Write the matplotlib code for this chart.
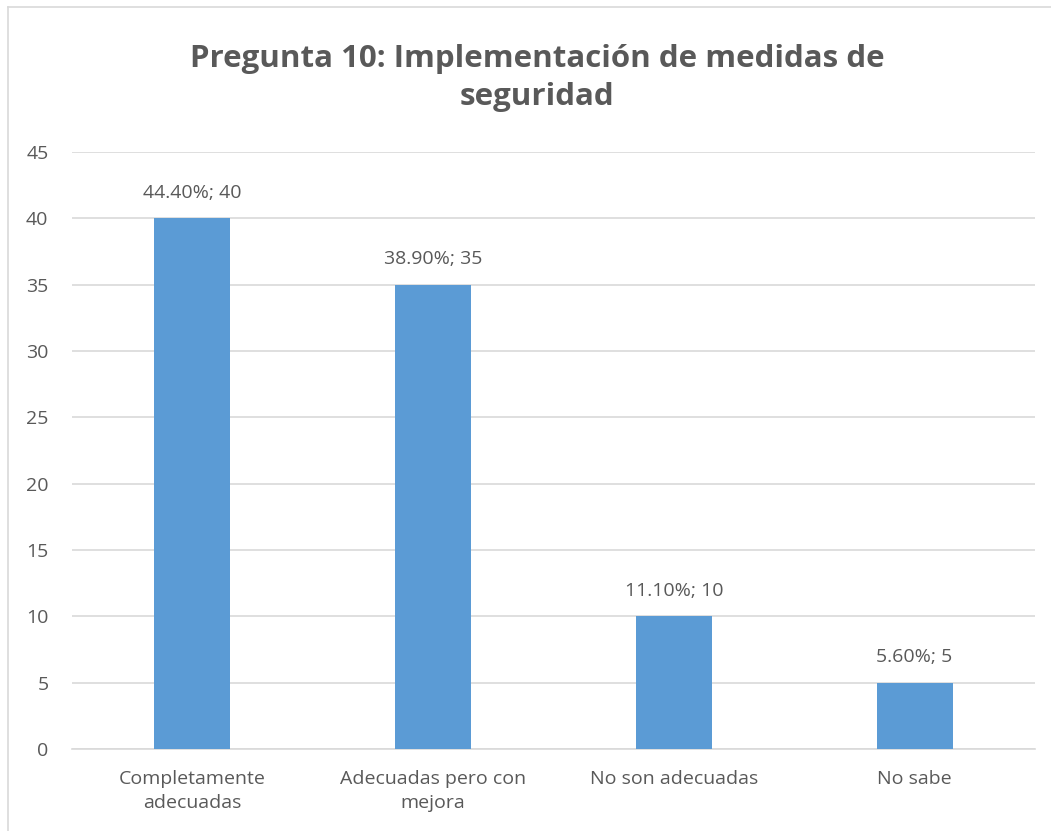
import matplotlib.pyplot as plt
from matplotlib.lines import Line2D

# datos
categorias = ['Completamente\nadecuadas', 'Adecuadas pero con\nmejora', 'No son adecuadas', 'No sabe']
valores = [40, 35, 10, 5]
porcentajes = ['44.40%', '38.90%', '11.10%', '5.60%']
yticks = [0, 5, 10, 15, 20, 25, 30, 35, 40, 45]

plt.rcParams['font.family'] = ['Open Sans', 'DejaVu Sans']
gris = '#595959'

fig = plt.figure(figsize=(10.51, 8.31), dpi=100)
ax = fig.add_axes([72 / 1051, 82 / 831, 963 / 1051, 597 / 831])

x = range(len(categorias))
ax.bar(x, valores, width=0.315, color='#5b9bd5', zorder=3)

for i, v in enumerate(valores):
    ax.text(i, v + 1.9, f'{porcentajes[i]}; {v}', ha='center', va='center',
            fontsize=14, color=gris)

ax.set_xlim(-0.5, len(categorias) - 0.5)
ax.set_ylim(0, 45)
ax.set_yticks(yticks)
ax.set_xticks(list(x))
ax.set_xticklabels(categorias, fontsize=14, color=gris, linespacing=1.45)
ax.tick_params(axis='y', labelsize=14, labelcolor=gris, length=0, pad=17)
ax.tick_params(axis='x', length=0, pad=15)
ax.grid(axis='y', color='#d9d9d9', linewidth=1.2, zorder=0)
for s in ['top', 'right', 'left']:
    ax.spines[s].set_visible(False)
ax.spines['bottom'].set_color('#d9d9d9')
ax.spines['bottom'].set_linewidth(1.2)

fig.text(0.511, 0.906, 'Pregunta 10: Implementación de medidas de\nseguridad',
         ha='center', va='center', fontsize=22.5, fontweight='bold', color=gris,
         linespacing=1.37)

# borde del gráfico (solo arriba e izquierda visibles)
bx, by = 8 / 1051, 1 - 7 / 831
fig.add_artist(Line2D([bx, 1.0], [by, by], transform=fig.transFigure,
                      color='#d9d9d9', linewidth=1.2))
fig.add_artist(Line2D([bx, bx], [0.0, by], transform=fig.transFigure,
                      color='#d9d9d9', linewidth=1.2))

fig.savefig('out.png', dpi=100)
